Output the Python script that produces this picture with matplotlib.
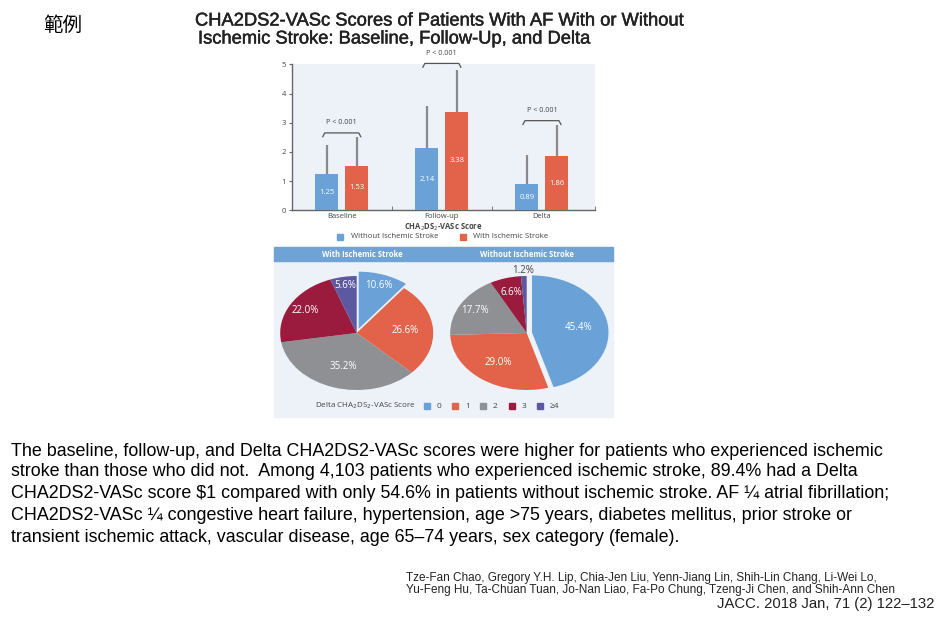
import matplotlib
matplotlib.use("Agg")
import matplotlib.pyplot as plt
import matplotlib.patheffects as pe
import numpy as np
from matplotlib.patches import Rectangle

# ---- data ----
groups = ["Baseline", "Follow-up", "Delta"]
without_mean = [1.25, 2.14, 0.89]
with_mean = [1.53, 3.38, 1.86]
without_sd = [0.99, 1.44, 1.00]
with_sd = [0.97, 1.42, 1.06]
p_text = ["P < 0.001", "P < 0.001", "P < 0.001"]
bracket_y = [2.65, 5.03, 3.07]

score_labels = ["0", "1", "2", "3", "\u22654"]
pie_with = [10.6, 26.6, 35.2, 22.0, 5.6]
pie_without = [45.4, 29.0, 17.7, 6.6, 1.2]

paragraph = [
    "The baseline, follow-up, and Delta CHA2DS2-VASc scores were higher for patients who experienced ischemic",
    "stroke than those who did not.  Among 4,103 patients who experienced ischemic stroke, 89.4% had a Delta",
    "CHA2DS2-VASc score $1 compared with only 54.6% in patients without ischemic stroke. AF \u00bc atrial fibrillation;",
    "CHA2DS2-VASc \u00bc congestive heart failure, hypertension, age >75 years, diabetes mellitus, prior stroke or",
    "transient ischemic attack, vascular disease, age 65\u201374 years, sex category (female).",
]
authors = [
    "Tze-Fan Chao, Gregory Y.H. Lip, Chia-Jen Liu, Yenn-Jiang Lin, Shih-Lin Chang, Li-Wei Lo,",
    "Yu-Feng Hu, Ta-Chuan Tuan, Jo-Nan Liao, Fa-Po Chung, Tzeng-Ji Chen, and Shih-Ann Chen",
]
journal = "JACC. 2018 Jan, 71 (2) 122\u2013132"

BLUE = "#6aa2d8"
RED = "#e2634a"
GRAY = "#8f9093"
DRED = "#9a1b3d"
PURP = "#5d59a0"
PANEL = "#edf1f8"
pie_colors = [BLUE, RED, GRAY, DRED, PURP]

W, H = 939, 619
fig = plt.figure(figsize=(W / 100, H / 100), dpi=100)
fig.patch.set_facecolor("white")


def rect(x0, y0, x1, y1):
    return [x0 / W, 1 - y1 / H, (x1 - x0) / W, (y1 - y0) / H]


def ftext(x, y, s, **kw):
    return fig.text(x / W, 1 - y / H, s, **kw)


CH = "Open Sans"
thick = [pe.withStroke(linewidth=0.35, foreground="#222222")]

# ---- titles ----
ftext(43, 25, "範例", fontsize=14, family=["Noto Sans CJK TC", "DejaVu Sans"], va="center")
ftext(195, 21, "CHA2DS2-VASc Scores of Patients With AF With or Without",
      fontsize=13.2, family="Liberation Sans", va="center", color="#222222", path_effects=thick)
ftext(198, 39, "Ischemic Stroke: Baseline, Follow-Up, and Delta",
      fontsize=13.2, family="Liberation Sans", va="center", color="#222222", path_effects=thick)

# ---- bar chart ----
ax = fig.add_axes(rect(291.7, 64.3, 595, 210.3))
ax.set_facecolor(PANEL)
x = np.arange(len(groups))
bw = 0.23
off = 0.15
b1 = ax.bar(x - off, without_mean, bw, color=BLUE, zorder=3)
b2 = ax.bar(x + off, with_mean, bw, color=RED, zorder=3)
ax.errorbar(x - off, without_mean, yerr=[np.zeros(3), without_sd], fmt="none",
            ecolor="#8a8a8a", elinewidth=1.6, capsize=0, zorder=2)
ax.errorbar(x + off, with_mean, yerr=[np.zeros(3), with_sd], fmt="none",
            ecolor="#8a8a8a", elinewidth=1.6, capsize=0, zorder=2)
for bars in (b1, b2):
    for b in bars:
        h = b.get_height()
        ax.text(b.get_x() + b.get_width() / 2, h / 2, f"{h:.2f}", ha="center", va="center",
                color="white", fontsize=5.5, family=CH, zorder=4)
for i in range(len(groups)):
    y = bracket_y[i]
    xs = [i - 0.19, i - 0.17, i + 0.17, i + 0.19]
    ys = [y - 0.13, y, y, y - 0.13]
    ax.plot(xs, ys, color="#555555", lw=0.9, clip_on=False, zorder=5)
    ax.text(i, y + 0.22, p_text[i], ha="center", va="bottom", fontsize=5.2,
            family=CH, color="#444444", clip_on=False)

ax.set_xlim(-0.5, 2.53)
ax.set_ylim(0, 5)
ax.set_yticks(range(6))
ax.set_xticks(x)
ax.set_xticklabels(groups)
ax.set_xticks([0.5, 1.5, 2.53], minor=True)
ax.tick_params(axis="x", which="major", length=0, pad=2, labelsize=5.5, labelcolor="#444444")
ax.tick_params(axis="x", which="minor", length=3, direction="in", color="#666666")
ax.tick_params(axis="y", length=2.5, width=0.8, pad=1.5, labelsize=5.5, labelcolor="#444444",
               color="#666666")
for lab in ax.get_xticklabels() + ax.get_yticklabels():
    lab.set_family(CH)
for s in ("top", "right"):
    ax.spines[s].set_visible(False)
for s in ("left", "bottom"):
    ax.spines[s].set_color("#666666")
    ax.spines[s].set_linewidth(1.0)
ax.set_xlabel("CHA$_2$DS$_2$-VASc Score", fontsize=5.5, family=CH, weight="bold",
              color="#444444", labelpad=1)

# bar legend
fig.add_artist(Rectangle((337 / W, 1 - 240 / H), 6 / W, 6 / H, color=BLUE, transform=fig.transFigure))
ftext(351, 237, "Without Ischemic Stroke", fontsize=5.6, family=CH, va="center", color="#444444")
fig.add_artist(Rectangle((460 / W, 1 - 240 / H), 6 / W, 6 / H, color=RED, transform=fig.transFigure))
ftext(473, 237, "With Ischemic Stroke", fontsize=5.6, family=CH, va="center", color="#444444")

# ---- pie panel ----
fig.add_artist(Rectangle((274 / W, 1 - 417 / H), 339 / W, 170 / H, color=PANEL,
                         transform=fig.transFigure, zorder=-2))
fig.add_artist(Rectangle((274 / W, 1 - 261 / H), 339 / W, 14 / H, color="#6fa3d5",
                         transform=fig.transFigure, zorder=-1))
ftext(362.7, 254.5, "With Ischemic Stroke", fontsize=5.5, family=CH, weight="bold",
      color="white", ha="center", va="center")
ftext(526.7, 254.5, "Without Ischemic Stroke", fontsize=5.5, family=CH, weight="bold",
      color="white", ha="center", va="center")


def draw_pie(cx, vals, explode, dists, out_idx=None):
    rx, ry, cy = 76.5, 57, 333
    pax = fig.add_axes(rect(cx - 1.25 * rx, cy - 1.25 * ry, cx + 1.25 * rx, cy + 1.25 * ry))
    wedges, _ = pax.pie(vals, colors=pie_colors, startangle=90, counterclock=False,
                        explode=explode, normalize=True)
    pax.set_xlim(-1.25, 1.25)
    pax.set_ylim(-1.25, 1.25)
    pax.set_aspect("auto")
    pax.axis("off")
    for i, w in enumerate(wedges):
        ang = np.deg2rad((w.theta1 + w.theta2) / 2)
        c = w.center
        d = dists[i]
        col = "white"
        if i == out_idx:
            c = (0, 0)
            col = "#444444"
        pax.text(c[0] + d * np.cos(ang), c[1] + d * np.sin(ang), f"{vals[i]:.1f}%",
                 ha="center", va="center", color=col, fontsize=7, family=CH)


draw_pie(356.7, pie_with, [0.08, 0, 0, 0, 0], [0.8, 0.63, 0.61, 0.78, 0.85])
draw_pie(526.7, pie_without, [0.07, 0, 0, 0, 0], [0.61, 0.63, 0.78, 0.74, 1.09], out_idx=4)

# pie legend
ftext(315, 406, "Delta CHA$_2$DS$_2$-VASc Score", fontsize=5.8, family=CH, va="center",
      color="#444444")
leg_x = [427, 455, 483, 512, 540]
for i, lx in enumerate(leg_x):
    fig.add_artist(Rectangle(((lx - 3) / W, 1 - 409 / H), 6 / W, 6 / H, color=pie_colors[i],
                             transform=fig.transFigure))
    ftext(lx + 10, 406, score_labels[i], fontsize=6, family=CH, va="center", color="#444444")

# ---- paragraph ----
line_y = [451, 472, 494, 516, 538]
for yy, line in zip(line_y, paragraph):
    ftext(11, yy, line, fontsize=12.9, family="Liberation Sans", va="center", color="black")

for yy, line in zip([578, 590.5], authors):
    ftext(406, yy, line, fontsize=8.5, family="Liberation Sans", va="center", color="#222222")
ftext(934, 604, journal, fontsize=10.7, family="Liberation Sans", va="center", ha="right",
      color="#222222")

fig.savefig("out.png", dpi=100)
